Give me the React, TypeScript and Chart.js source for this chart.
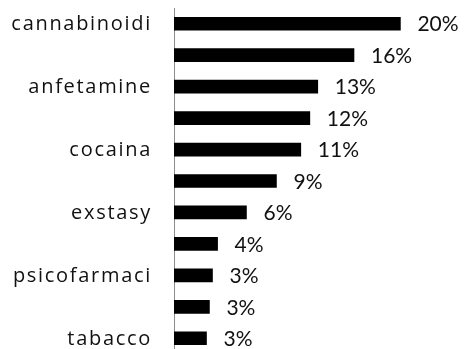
import React, { useEffect, useRef } from "react";
import { Chart, registerables } from "chart.js";

Chart.register(...registerables);

const categories = [
  "cannabinoidi",
  "alcol",
  "anfetamine",
  "allucinogeni",
  "cocaina",
  "ketamina",
  "exstasy",
  "oppiacei",
  "psicofarmaci",
  "inalanti",
  "tabacco",
];
const values = [20.0, 15.9, 12.7, 12.0, 11.2, 9.05, 6.4, 3.85, 3.4, 3.13, 2.87];
const valueLabels = ["20%", "16%", "13%", "12%", "11%", "9%", "6%", "4%", "3%", "3%", "3%"];

const FONT = "Lato, 'Noto Sans', sans-serif";
const TICK_FONT = "'Open Sans', 'Noto Sans', sans-serif";

const spacingPlugin = {
  id: "spacing",
  beforeDraw(chart: any) {
    (chart.ctx as any).letterSpacing = "1.7px";
  },
  afterDraw(chart: any) {
    (chart.ctx as any).letterSpacing = "0px";
  },
};

const dataLabelPlugin = {
  id: "dataLabels",
  afterDatasetsDraw(chart: any) {
    const ctx = chart.ctx;
    const meta = chart.getDatasetMeta(0);
    ctx.save();
    (ctx as any).letterSpacing = "0px";
    ctx.font = `21px ${FONT}`;
    ctx.fillStyle = "#111111";
    ctx.textAlign = "left";
    ctx.textBaseline = "middle";
    meta.data.forEach((el: any, i: number) => {
      ctx.fillText(valueLabels[i], el.x + 17, el.y + 1);
    });
    ctx.restore();
  },
};

export default function App() {
  const ref = useRef<HTMLCanvasElement | null>(null);
  useEffect(() => {
    document.body.style.margin = "0";
    const chart = new Chart(ref.current as HTMLCanvasElement, {
      type: "bar",
      data: {
        labels: categories,
        datasets: [
          {
            data: values,
            backgroundColor: "#000000",
            barThickness: 13,
          },
        ],
      },
      options: {
        indexAxis: "y",
        responsive: false,
        animation: false,
        layout: { padding: { top: 8, right: 9, bottom: 0, left: 0 } },
        plugins: { legend: { display: false }, tooltip: { enabled: false } },
        scales: {
          x: { display: false, min: 0, max: 25 },
          y: {
            grid: { display: false },
            border: { display: true, color: "#8c8c8c", width: 1 },
            afterFit(scale: any) {
              scale.width = 174;
              scale.paddingTop = 0;
              scale.paddingBottom = 0;
            },
            ticks: {
              autoSkip: false,
              padding: 14,
              labelOffset: 1,
              color: "#111111",
              font: { family: TICK_FONT, size: 20 },
              callback: (_v: any, i: number) => (i % 2 === 0 ? categories[i] : ""),
            },
          },
        },
      },
      plugins: [spacingPlugin, dataLabelPlugin],
    });
    return () => chart.destroy();
  }, []);
  return (
    <div style={{ width: 466, height: 349, overflow: "hidden", position: "relative" }}>
      <canvas ref={ref} width={466} height={354} style={{ display: "block" }} />
    </div>
  );
}
